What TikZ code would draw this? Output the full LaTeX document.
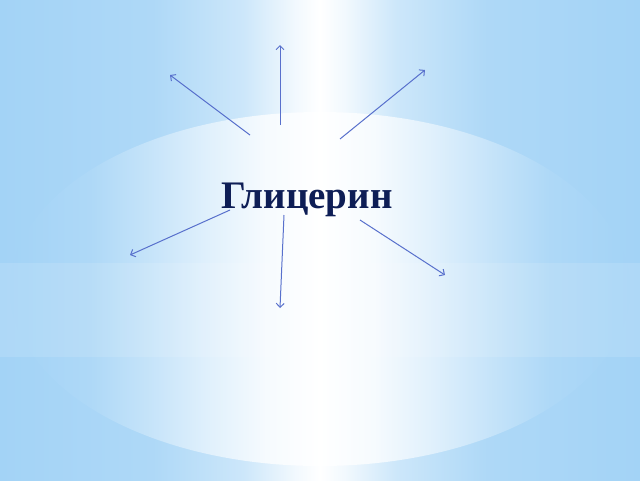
\documentclass[tikz,border=0pt]{standalone}
\usepackage{fontspec}
\setmainfont{Liberation Serif}
\usetikzlibrary{arrows.meta}
\definecolor{bgblue}{RGB}{163,211,246}
\definecolor{navytext}{RGB}{14,30,86}
\definecolor{arrowblue}{RGB}{88,112,204}
\pgfdeclarehorizontalshading{bgsh}{100bp}{color(0bp)=(bgblue); color(25bp)=(bgblue); color(37bp)=(bgblue!88!white); color(44bp)=(bgblue!55!white); color(48bp)=(bgblue!15!white); color(50bp)=(white); color(52bp)=(bgblue!15!white); color(56bp)=(bgblue!55!white); color(63bp)=(bgblue!88!white); color(75bp)=(bgblue); color(100bp)=(bgblue)}
\pgfdeclarehorizontalshading{elsh}{100bp}{color(0bp)=(bgblue); color(25bp)=(bgblue); color(31.5bp)=(bgblue!88!white); color(36.3bp)=(bgblue!62!white); color(41.1bp)=(bgblue!33!white); color(45.6bp)=(bgblue!10!white); color(50bp)=(white); color(54.4bp)=(bgblue!10!white); color(58.9bp)=(bgblue!33!white); color(63.7bp)=(bgblue!62!white); color(68.5bp)=(bgblue!88!white); color(75bp)=(bgblue); color(100bp)=(bgblue)}
\tikzset{
  ray/.style={draw=arrowblue, line width=1pt, -{Straight Barb[length=4pt,width=8pt]}},
  title/.style={font=\bfseries\fontsize{39}{44}\selectfont, text=navytext, inner sep=0pt, anchor=base}
}
\begin{document}
\begin{tikzpicture}[x=1pt,y=-1pt]
\useasboundingbox (0,0) rectangle (640,480);
\shade[shading=bgsh] (0,0) rectangle (640,480);
\shade[shading=elsh] (320,289) ellipse [x radius=310, y radius=177];
\fill[white, opacity=0.12] (0,263) rectangle (640,357);
\node[title] (t) at (307,208) {Глицерин};
\coordinate (a1) at (250,135); \coordinate (b1) at (170,75);
\coordinate (a2) at (280,125); \coordinate (b2) at (280,45);
\coordinate (a3) at (340,139); \coordinate (b3) at (425,70);
\coordinate (a4) at (230,210); \coordinate (b4) at (130,255);
\coordinate (a5) at (284,215); \coordinate (b5) at (280,308);
\coordinate (a6) at (360,220); \coordinate (b6) at (445,275);
\draw[ray] (a1) -- (b1);
\draw[ray] (a2) -- (b2);
\draw[ray] (a3) -- (b3);
\draw[ray] (a4) -- (b4);
\draw[ray] (a5) -- (b5);
\draw[ray] (a6) -- (b6);
\end{tikzpicture}
\end{document}
